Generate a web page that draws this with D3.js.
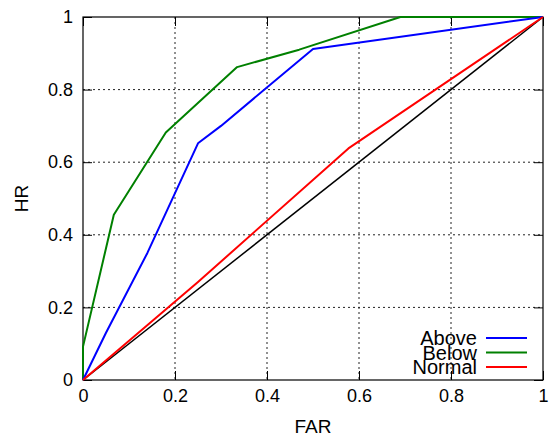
<!DOCTYPE html>
<html>
<head>
<meta charset="utf-8">
<script src="https://cdn.jsdelivr.net/npm/d3@7"></script>
<style>
  body { margin: 0; background: #fff; }
  svg { font-family: "Liberation Sans", Arial, sans-serif; }
</style>
</head>
<body>
<svg id="chart" width="549" height="436"></svg>
<script>
// ROC curves, values
const tickValues = [0, 0.2, 0.4, 0.6, 0.8, 1];

const aboveFar = [0, 0.05, 0.14, 0.25, 0.30, 0.50, 1];
const aboveHr  = [0, 0.13, 0.35, 0.652, 0.70, 0.912, 1];

const belowFar = [0, 0, 0.067, 0.18, 0.335, 0.47, 0.69, 1];
const belowHr  = [0, 0.092, 0.455, 0.682, 0.862, 0.91, 1, 1];

const normalFar = [0, 0.25, 0.577, 1];
const normalHr  = [0, 0.27, 0.638, 1];

const diagFar = [0, 1];
const diagHr  = [0, 1];

const seriesNames = ['Above', 'Below', 'Normal'];
const seriesColors = ['#0000ff', '#008000', '#ff0000'];

// layout
const plotLeft = 83, plotRight = 543, plotTop = 17, plotBottom = 380;
const TICK = 9;

const svg = d3.select('svg#chart');

const x = d3.scaleLinear().domain([0, 1]).range([plotLeft, plotRight]);
const y = d3.scaleLinear().domain([0, 1]).range([plotBottom, plotTop]);

// dotted grid
svg.append('g')
  .selectAll('line')
  .data(tickValues.slice(1, -1))
  .enter()
  .append('line')
  .attr('x1', (d) => x(d))
  .attr('x2', (d) => x(d))
  .attr('y1', plotTop)
  .attr('y2', plotBottom)
  .attr('stroke', '#222')
  .attr('stroke-width', 1)
  .attr('stroke-dasharray', '2,3');

svg.append('g')
  .selectAll('line')
  .data(tickValues.slice(1, -1))
  .enter()
  .append('line')
  .attr('x1', plotLeft)
  .attr('x2', plotRight)
  .attr('y1', (d) => y(d))
  .attr('y2', (d) => y(d))
  .attr('stroke', '#222')
  .attr('stroke-width', 1)
  .attr('stroke-dasharray', '2,3');

// axes with inward ticks, mirrored on top/right
const fmt = (d) => String(d);

const xAxis = svg.append('g')
  .attr('transform', `translate(0,${plotBottom})`)
  .call(d3.axisBottom(x).tickValues(tickValues).tickSize(-TICK).tickPadding(9).tickFormat(fmt));

const yAxis = svg.append('g')
  .attr('transform', `translate(${plotLeft},0)`)
  .call(d3.axisLeft(y).tickValues(tickValues).tickSize(-TICK).tickPadding(10).tickFormat(fmt));

svg.append('g')
  .attr('transform', `translate(0,${plotTop})`)
  .call(d3.axisTop(x).tickValues(tickValues).tickSize(-TICK).tickFormat(''));

svg.append('g')
  .attr('transform', `translate(${plotRight},0)`)
  .call(d3.axisRight(y).tickValues(tickValues).tickSize(-TICK).tickFormat(''));

svg.selectAll('.domain').remove();
svg.selectAll('.tick line').attr('stroke', '#000').attr('stroke-width', 1);
[xAxis, yAxis].forEach((g) => g.selectAll('text')
  .attr('font-size', '18px')
  .attr('font-family', '"Liberation Sans", Arial, sans-serif')
  .attr('fill', '#000'));

// border
svg.append('rect')
  .attr('x', plotLeft)
  .attr('y', plotTop)
  .attr('width', plotRight - plotLeft)
  .attr('height', plotBottom - plotTop)
  .attr('fill', 'none')
  .attr('stroke', '#000')
  .attr('stroke-width', 1.2);

// curves
const line = d3.line()
  .x((d) => x(d[0]))
  .y((d) => y(d[1]));

const zip = (a, b) => a.map((v, i) => [v, b[i]]);

svg.append('path')
  .attr('d', line(zip(diagFar, diagHr)))
  .attr('fill', 'none')
  .attr('stroke', '#000')
  .attr('stroke-width', 1.5);

const curves = [
  zip(aboveFar, aboveHr),
  zip(belowFar, belowHr),
  zip(normalFar, normalHr),
];

// draw order: below, above, normal (red on top near diagonal)
[1, 0, 2].forEach((i) => {
  svg.append('path')
    .attr('d', line(curves[i]))
    .attr('fill', 'none')
    .attr('stroke', seriesColors[i])
    .attr('stroke-width', 2)
    .attr('stroke-linejoin', 'round');
});

// legend
const legendY = d3.scaleLinear().domain([0, 1]).range([338, 352.5]);
const legend = svg.append('g');

legend.selectAll('text')
  .data(seriesNames)
  .enter()
  .append('text')
  .attr('x', 477)
  .attr('y', (d, i) => legendY(i))
  .attr('dy', '0.35em')
  .attr('text-anchor', 'end')
  .attr('font-size', '20px')
  .text((d) => d);

legend.selectAll('line')
  .data(seriesNames)
  .enter()
  .append('line')
  .attr('x1', 486)
  .attr('x2', 527)
  .attr('y1', (d, i) => legendY(i))
  .attr('y2', (d, i) => legendY(i))
  .attr('stroke', (d, i) => seriesColors[i])
  .attr('stroke-width', 2);

// axis titles
svg.append('text')
  .attr('x', (plotLeft + plotRight) / 2)
  .attr('y', 433)
  .attr('text-anchor', 'middle')
  .attr('font-size', '19px')
  .text('FAR');

svg.append('text')
  .attr('transform', `translate(28,${(plotTop + plotBottom) / 2}) rotate(-90)`)
  .attr('text-anchor', 'middle')
  .attr('font-size', '19px')
  .text('HR');
</script>
</body>
</html>
